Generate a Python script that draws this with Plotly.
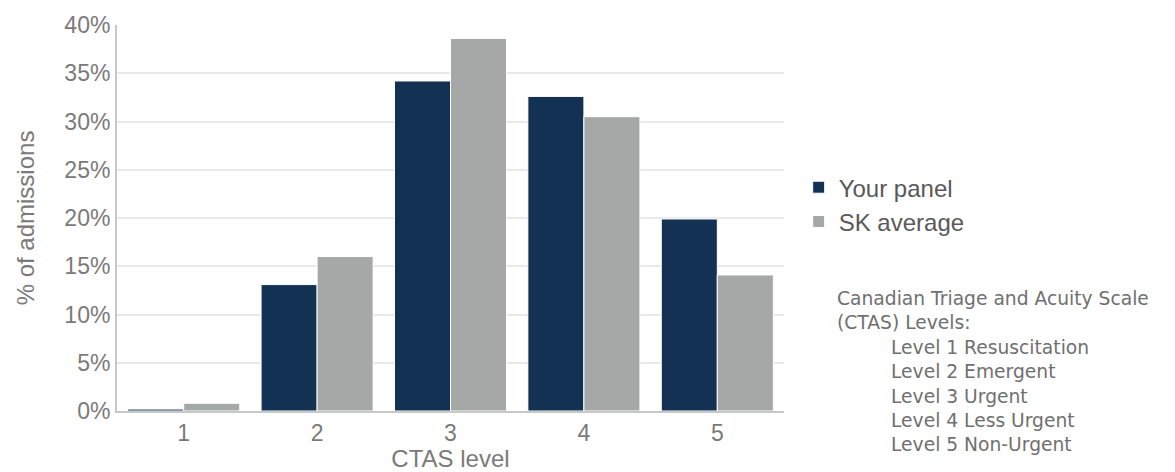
import plotly.graph_objects as go

categories = ["1", "2", "3", "4", "5"]
your_panel = [0.2, 13.1, 34.2, 32.6, 19.9]
sk_average = [0.8, 16.0, 38.6, 30.5, 14.1]
y_ticks = [0, 5, 10, 15, 20, 25, 30, 35, 40]
y_tick_labels = [f"{v}%" for v in y_ticks]

DARK = "#133253"
GRAY = "#a6a7a7"
TXT = "#7a7a7a"

fig = go.Figure()
fig.add_trace(go.Bar(x=categories, y=your_panel, name="Your panel",
                     marker=dict(color=DARK, line=dict(color="white", width=1)),
                     legendgroup="a"))
fig.add_trace(go.Bar(x=categories, y=sk_average, name="SK average",
                     marker=dict(color=GRAY, line=dict(color="white", width=1)),
                     legendgroup="b"))

fig.update_layout(
    width=1175, height=472,
    margin=dict(l=117, r=391, t=25, b=61),
    paper_bgcolor="white", plot_bgcolor="white",
    barmode="group", bargap=0.16, bargroupgap=0,
    font=dict(family="Liberation Sans, Arial, sans-serif", color=TXT),
    xaxis=dict(title=dict(text="CTAS level", font=dict(size=24, color=TXT), standoff=6),
               tickfont=dict(size=23, color=TXT), automargin=False,
               showline=True, linecolor="#c8c8c8", linewidth=2,
               ticks="", showgrid=False),
    yaxis=dict(title=dict(text="% of admissions", font=dict(size=24, color=TXT), standoff=23),
               range=[0, 40], tickvals=y_ticks, ticktext=y_tick_labels,
               tickfont=dict(size=23, color=TXT), automargin=False,
               showline=True, linecolor="#c8c8c8", linewidth=2,
               gridcolor="#e9e9e9", gridwidth=1.5, zeroline=False, ticks=""),
    legend=dict(x=1.022, y=0.637, xanchor="left", yanchor="top",
                font=dict(size=24, color="#595959"),
                tracegroupgap=0, bgcolor="rgba(0,0,0,0)"),
    showlegend=True,
)

fig.add_annotation(xref="paper", yref="paper", x=(835-117)/667, y=(411-286)/386,
                   xanchor="left", yanchor="top", showarrow=False, align="left",
                   text="Canadian Triage and Acuity Scale<br>(CTAS) Levels:",
                   font=dict(family="DejaVu Sans, sans-serif", size=18.7, color="#707070"))
fig.add_annotation(xref="paper", yref="paper", x=(889-117)/667, y=(411-335)/386,
                   xanchor="left", yanchor="top", showarrow=False, align="left",
                   text="Level 1 Resuscitation<br>Level 2 Emergent<br>Level 3 Urgent<br>Level 4 Less Urgent<br>Level 5 Non-Urgent",
                   font=dict(family="DejaVu Sans, sans-serif", size=18.7, color="#707070"))

fig.write_html("out.html")
